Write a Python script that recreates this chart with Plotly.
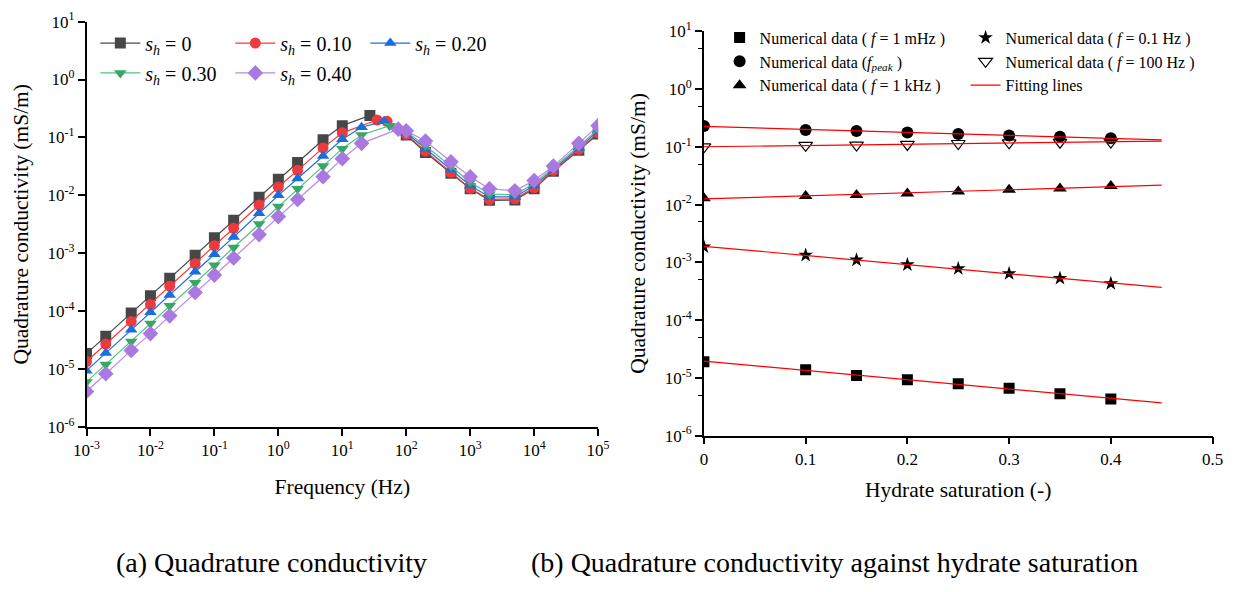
import numpy as np
import plotly.graph_objects as go

FONT = '"Liberation Serif", "Times New Roman", Times, serif'

# ---------------- (a) Quadrature conductivity vs frequency ----------------
f_low = [1e-3, 2e-3, 5e-3, 1e-2, 2e-2, 5e-2, 0.1, 0.2, 0.5, 1, 2, 5, 10]
f_high = [100, 200, 500, 1e3, 2e3, 5e3, 1e4, 2e4, 5e4, 1e5]

f_sh0 = f_low + [27] + f_high
q_sh0 = [1.85e-5, 3.7e-5, 9.3e-5, 1.85e-4, 3.7e-4, 9.2e-4, 1.85e-3, 3.7e-3, 9.3e-3, 1.9e-2, 3.7e-2, 0.091, 0.16,
         0.24,
         0.11, 0.055, 0.024, 0.013, 0.0082, 0.0083, 0.013, 0.026, 0.060, 0.115]

f_sh10 = f_low + [35, 50] + f_high
q_sh10 = [1.35e-5, 2.7e-5, 6.6e-5, 1.3e-4, 2.7e-4, 6.6e-4, 1.35e-3, 2.7e-3, 6.8e-3, 0.0139, 0.027, 0.066, 0.12,
          0.20, 0.19,
          0.113, 0.058, 0.025, 0.0132, 0.0085, 0.0087, 0.0135, 0.027, 0.062, 0.12]

f_sh20 = f_low + [20, 45] + f_high
q_sh20 = [9.4e-6, 1.9e-5, 4.8e-5, 9.6e-5, 1.9e-4, 4.8e-4, 9.6e-4, 1.9e-3, 4.9e-3, 0.010, 0.0195, 0.048, 0.093,
          0.15, 0.19,
          0.12, 0.064, 0.028, 0.0148, 0.0094, 0.0094, 0.0148, 0.028, 0.066, 0.13]

f_sh30 = f_low + [20, 55] + f_high
q_sh30 = [6.0e-6, 1.2e-5, 3.0e-5, 6.1e-5, 1.24e-4, 3.1e-4, 6.2e-4, 1.26e-3, 3.2e-3, 6.4e-3, 0.013, 0.032, 0.064,
          0.11, 0.16,
          0.125, 0.072, 0.032, 0.017, 0.0105, 0.0103, 0.016, 0.030, 0.070, 0.14]

f_sh40 = f_low + [20, 75] + f_high
q_sh40 = [4.1e-6, 8.3e-6, 2.1e-5, 4.1e-5, 8.3e-5, 2.1e-4, 4.2e-4, 8.3e-4, 2.1e-3, 4.3e-3, 8.5e-3, 0.021, 0.043,
          0.079, 0.139,
          0.13, 0.087, 0.038, 0.021, 0.013, 0.012, 0.018, 0.032, 0.079, 0.16]

left_names = ["<i>s</i><sub><i>h</i></sub> = 0", "<i>s</i><sub><i>h</i></sub> = 0.10",
              "<i>s</i><sub><i>h</i></sub> = 0.20", "<i>s</i><sub><i>h</i></sub> = 0.30",
              "<i>s</i><sub><i>h</i></sub> = 0.40"]
left_f = [f_sh0, f_sh10, f_sh20, f_sh30, f_sh40]
left_q = [q_sh0, q_sh10, q_sh20, q_sh30, q_sh40]
left_line_colors = ["#4a4a4a", "#ef3b3b", "#1f6fdc", "#52c183", "#b88ae6"]
left_marker_colors = ["#474747", "#ee3a3d", "#1a6ddd", "#37a863", "#a978e0"]
left_symbols = ["square", "circle", "triangle-up", "triangle-down", "diamond"]
left_legends = ["legend", "legend", "legend", "legend2", "legend2"]

# ---------------- (b) Quadrature conductivity vs hydrate saturation ----------------
s_h = [0, 0.10, 0.15, 0.20, 0.25, 0.30, 0.35, 0.40]
q_1mHz = [1.9e-5, 1.38e-5, 1.1e-5, 9.3e-6, 7.9e-6, 6.6e-6, 5.3e-6, 4.3e-6]
q_0p1Hz = [1.86e-3, 1.33e-3, 1.1e-3, 9.1e-4, 7.8e-4, 6.4e-4, 5.3e-4, 4.3e-4]
q_fpeak = [0.23, 0.195, 0.187, 0.177, 0.167, 0.157, 0.150, 0.140]
q_100Hz = [0.100, 0.106, 0.107, 0.110, 0.114, 0.117, 0.120, 0.121]
q_1kHz = [0.0129, 0.0141, 0.0147, 0.0156, 0.0169, 0.0180, 0.0190, 0.0210]
s_fit_range = [0.0, 0.45]

right_names = ["Numerical data ( <i>f</i> = 1 mHz )",
               "Numerical data (<i>f</i><sub><i>peak</i></sub> )",
               "Numerical data ( <i>f</i> = 1 kHz )",
               "Numerical data ( <i>f</i> = 0.1 Hz )",
               "Numerical data ( <i>f</i> = 100 Hz )"]
right_q = [q_1mHz, q_fpeak, q_1kHz, q_0p1Hz, q_100Hz]
right_symbols = ["square", "circle", "triangle-up", "star", "triangle-down-open"]
right_sizes = [11, 12, 12, 11, 12]
right_legends = ["legend3", "legend3", "legend3", "legend4", "legend4"]

decade_vals = [10.0 ** k for k in range(-6, 2)]
decade_text = ["10<sup>%d</sup>" % k for k in range(-6, 2)]
xdec_vals = [10.0 ** k for k in range(-3, 6)]
xdec_text = ["10<sup>%d</sup>" % k for k in range(-3, 6)]

fig = go.Figure()

for name, fx, qy, lc, mc, sym, lg in zip(left_names, left_f, left_q, left_line_colors,
                                          left_marker_colors, left_symbols, left_legends):
    fig.add_trace(go.Scatter(
        x=fx, y=qy, mode="lines+markers", name=name, legend=lg,
        line=dict(color=lc, width=1.2),
        marker=dict(symbol=sym, size=11 if sym != "diamond" else 12, color=mc, line=dict(width=0)),
        xaxis="x", yaxis="y"))

for name, qy, sym, size, lg in zip(right_names, right_q, right_symbols, right_sizes, right_legends):
    fig.add_trace(go.Scatter(
        x=s_h, y=qy, mode="markers", name=name, legend=lg,
        marker=dict(symbol=sym, size=size, color="black",
                    line=dict(width=1.2 if "open" in sym else 0, color="black")),
        xaxis="x2", yaxis="y2"))

# fitting lines (exponential fit = straight line on log axis)
s_fit = np.array(s_fit_range)
for i, qy in enumerate([q_1mHz, q_0p1Hz, q_fpeak, q_100Hz, q_1kHz]):
    coef = np.polyfit(s_h, np.log10(qy), 1)
    fig.add_trace(go.Scatter(
        x=s_fit, y=10 ** np.polyval(coef, s_fit), mode="lines", name="Fitting lines",
        legend="legend4", showlegend=(i == 0),
        line=dict(color="#ff0000", width=1.2), xaxis="x2", yaxis="y2"))

W, H = 1252, 592
def px(x):
    return x / W
def py(y):
    return 1 - y / H

TICKF = dict(family=FONT, size=17, color="black")
TITLEF = dict(family=FONT, size=21.5, color="black")
axis_common = dict(showline=True, linecolor="black", linewidth=1.5, ticks="outside",
                   ticklen=7, tickwidth=1.5, tickcolor="black", showgrid=False, zeroline=False,
                   mirror=False, tickfont=TICKF)

fig.update_layout(
    width=W, height=H, margin=dict(l=0, r=0, t=0, b=0),
    paper_bgcolor="white", plot_bgcolor="white",
    font=dict(family=FONT, color="black"),
    xaxis=dict(axis_common, type="log", domain=[px(75), px(597)], range=[-3, 5],
               tickvals=xdec_vals, ticktext=xdec_text, anchor="y",
               title=dict(text="Frequency (Hz)", standoff=20, font=TITLEF)),
    yaxis=dict(axis_common, type="log", domain=[py(431), py(10)], range=[-6, 1],
               tickvals=decade_vals, ticktext=decade_text, anchor="x",
               title=dict(text="Quadrature conductivity (mS/m)", standoff=13, font=TITLEF)),
    xaxis2=dict(axis_common, range=[0, 0.5], domain=[px(705), px(1224)],
                tickvals=[0, 0.1, 0.2, 0.3, 0.4, 0.5], ticktext=["0", "0.1", "0.2", "0.3", "0.4", "0.5"],
                anchor="y2", title=dict(text="Hydrate saturation (-)", standoff=14, font=TITLEF)),
    yaxis2=dict(axis_common, type="log", domain=[py(440), py(20)], range=[-6, 1],
                tickvals=decade_vals, ticktext=decade_text, anchor="x2",
                minor=dict(tickvals=[5 * 10.0 ** k for k in range(-6, 1)], ticks="outside",
                           ticklen=4, tickwidth=1.2, tickcolor="black"),
                title=dict(text="Quadrature conductivity (mS/m)", standoff=13, font=TITLEF)),
    legend=dict(x=px(84), y=py(12), xanchor="left", yanchor="top", orientation="h",
                entrywidth=80, entrywidthmode="pixels", bgcolor="rgba(0,0,0,0)",
                font=dict(family=FONT, size=20, color="black"), itemwidth=40),
    legend2=dict(x=px(84), y=py(43), xanchor="left", yanchor="top", orientation="h",
                 entrywidth=80, entrywidthmode="pixels", bgcolor="rgba(0,0,0,0)",
                 font=dict(family=FONT, size=20, color="black"), itemwidth=40),
    legend3=dict(x=px(721), y=py(9), xanchor="left", yanchor="top", orientation="v",
                 bgcolor="rgba(0,0,0,0)", font=dict(family=FONT, size=16, color="black"),
                 tracegroupgap=0, itemwidth=30),
    legend4=dict(x=px(972), y=py(9), xanchor="left", yanchor="top", orientation="v",
                 bgcolor="rgba(0,0,0,0)", font=dict(family=FONT, size=16, color="black"),
                 tracegroupgap=0, itemwidth=30),
    annotations=[
        dict(text="(a) Quadrature conductivity", x=px(264), y=py(572), xref="paper", yref="paper",
             xanchor="center", yanchor="middle", showarrow=False,
             font=dict(family=FONT, size=28, color="black")),
        dict(text="(b) Quadrature conductivity against hydrate saturation", x=px(838), y=py(572),
             xref="paper", yref="paper", xanchor="center", yanchor="middle", showarrow=False,
             font=dict(family=FONT, size=28, color="black")),
    ],
)

fig.write_html("out.html")
